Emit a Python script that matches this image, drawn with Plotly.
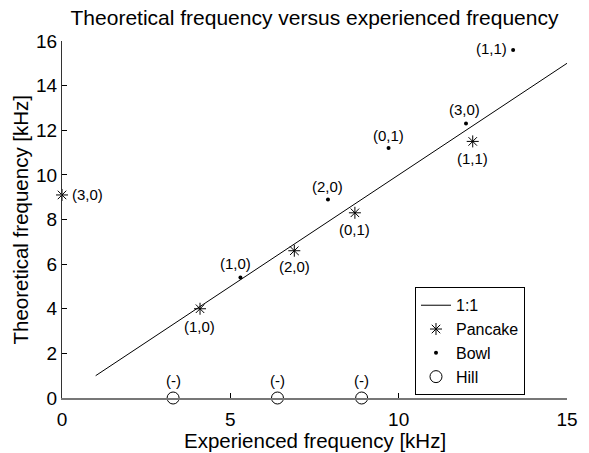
import plotly.graph_objects as go

# ---- data ----
line_x = [1, 15]
line_y = [1, 15]

pancake_x = [0.0, 4.1, 6.9, 8.7, 12.2]
pancake_y = [9.1, 4.0, 6.6, 8.3, 11.5]
pancake_labels = ["(3,0)", "(1,0)", "(2,0)", "(0,1)", "(1,1)"]

bowl_x = [5.3, 7.9, 9.7, 12.0, 13.4]
bowl_y = [5.4, 8.9, 11.2, 12.3, 15.6]
bowl_labels = ["(1,0)", "(2,0)", "(0,1)", "(3,0)", "(1,1)"]

hill_x = [3.3, 6.4, 8.9]
hill_y = [0, 0, 0]
hill_labels = ["(-)", "(-)", "(-)"]

x_ticks = [0, 5, 10, 15]
y_ticks = [0, 2, 4, 6, 8, 10, 12, 14, 16]

# ---- label offsets (px) ----
pancake_off = [(25, 0), (-1, -18), (0, -16), (0, -17), (0, -17)]
bowl_off = [(-5, 14), (0, 13), (0, 13), (-2, 14), (-22, 1)]
hill_off = [(0, 18), (0, 18), (0, 18)]

FONT = "Arial, Liberation Sans, sans-serif"

fig = go.Figure()
fig.add_trace(go.Scatter(x=line_x, y=line_y, mode="lines", name="1:1",
                         line=dict(color="black", width=1), cliponaxis=False))
fig.add_trace(go.Scatter(x=pancake_x, y=pancake_y, mode="markers", name="Pancake",
                         marker=dict(symbol="asterisk-open", size=10,
                                     line=dict(color="black", width=1), color="black"),
                         cliponaxis=False))
fig.add_trace(go.Scatter(x=bowl_x, y=bowl_y, mode="markers", name="Bowl",
                         marker=dict(symbol="circle", size=4, color="black"),
                         cliponaxis=False))
fig.add_trace(go.Scatter(x=hill_x, y=hill_y, mode="markers", name="Hill",
                         marker=dict(symbol="circle-open", size=12,
                                     line=dict(color="black", width=1), color="black"),
                         cliponaxis=False))

annotations = []
for xs, ys, labs, offs in [(pancake_x, pancake_y, pancake_labels, pancake_off),
                           (bowl_x, bowl_y, bowl_labels, bowl_off),
                           (hill_x, hill_y, hill_labels, hill_off)]:
    for xv, yv, lab, (dx, dy) in zip(xs, ys, labs, offs):
        annotations.append(dict(x=xv, y=yv, xref="x", yref="y", text=lab,
                                showarrow=False, xshift=dx, yshift=dy,
                                font=dict(family=FONT, size=15, color="black")))

# axis titles as paper-anchored annotations
annotations.append(dict(text="Experienced frequency [kHz]", xref="paper", yref="paper",
                        x=0.5, y=0, yshift=-42, yanchor="middle", showarrow=False,
                        font=dict(family=FONT, size=20.5, color="black")))
annotations.append(dict(text="Theoretical frequency [kHz]", xref="paper", yref="paper",
                        x=0, xshift=-42, y=0.5, xanchor="center", yanchor="middle",
                        textangle=-90, showarrow=False,
                        font=dict(family=FONT, size=20.5, color="black")))

fig.update_layout(
    width=589, height=453,
    margin=dict(l=62, r=22, t=41, b=55, autoexpand=False),
    paper_bgcolor="white", plot_bgcolor="white",
    font=dict(family=FONT, size=19, color="black"),
    title=dict(text="Theoretical frequency versus experienced frequency",
               x=0.5, xref="paper", y=1 - 18 / 453, yref="container",
               yanchor="middle", font=dict(size=21)),
    showlegend=True,
    legend=dict(x=0.699, y=0.31, xanchor="left", yanchor="top",
                bgcolor="white", bordercolor="black", borderwidth=1,
                font=dict(size=16), tracegroupgap=0, itemwidth=30),
    annotations=annotations,
)

fig.update_xaxes(range=[0, 15], tickvals=x_ticks, ticks="inside", ticklen=5,
                 tickcolor="black", showline=True, linecolor="#777", linewidth=2,
                 showgrid=False, zeroline=False, mirror=False, automargin=False,
                 ticklabelstandoff=3, tickfont=dict(size=19))
fig.update_yaxes(range=[0, 16], tickvals=y_ticks, ticks="inside", ticklen=5,
                 tickcolor="black", showline=True, linecolor="#333", linewidth=1,
                 showgrid=False, zeroline=False, mirror=False, automargin=False,
                 tickfont=dict(size=19))

fig.write_html("out.html")
